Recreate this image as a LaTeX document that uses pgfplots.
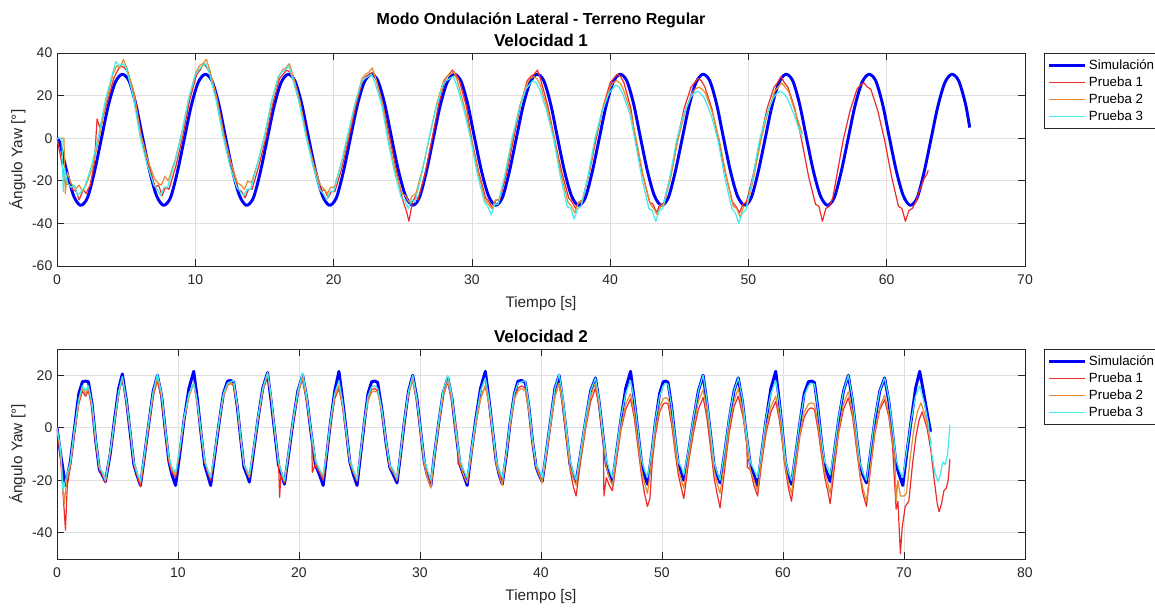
\documentclass[border=0pt]{standalone}
\usepackage{fontspec}
\setmainfont{Liberation Sans}
\usepackage{pgfplots}
\pgfplotsset{compat=1.18}
\definecolor{simblue}{rgb}{0,0,1}
\definecolor{pone}{rgb}{0.93,0.17,0.17}
\definecolor{ptwo}{rgb}{0.90,0.55,0.18}
\definecolor{pthree}{rgb}{0.25,0.92,0.92}
\definecolor{axgray}{rgb}{0.15,0.15,0.15}
\pgfplotsset{
  myax/.style={
    scale only axis, width=726pt,
    axis line style={axgray, line width=0.5pt},
    tick style={axgray, line width=0.5pt},
    major tick length=5pt,
    tick align=inside,
    grid=major, grid style={black!12, line width=0.5pt},
    ticklabel style={font=\fontsize{10.5}{12}\selectfont, text=axgray},
    xticklabel style={yshift=-3pt},
    label style={font=\fontsize{11.5}{13}\selectfont, text=axgray},
    xlabel style={yshift=-2pt},
    ylabel style={yshift=-2pt},
    title style={font=\bfseries\fontsize{12.8}{14}\selectfont, yshift=-4.5pt},
    /pgf/number format/assume math mode=true,
    legend cell align=left,
    legend style={at={(1,1)}, anchor=north west, xshift=14pt, draw=axgray, line width=0.5pt,
      font=\fontsize{10}{12}\selectfont, inner sep=2.5pt, row sep=0pt},
    legend image code/.code={\draw[##1] (0pt,0pt) -- (27pt,0pt);},
    every axis plot/.append style={line join=round},
    xlabel={Tiempo [s]}, ylabel={Ángulo Yaw [°]},
  },
  sim/.style={simblue, line width=2.2pt},
  pa/.style={pone, line width=0.9pt},
  pb/.style={ptwo, line width=0.9pt},
  pc/.style={pthree, line width=0.9pt},
}
\begin{document}
\begin{tikzpicture}
\useasboundingbox (0,0) rectangle (866.25pt,457.5pt);
\node[font=\bfseries\fontsize{12}{14}\selectfont] at (405.75pt,442.5pt) {Modo Ondulación Lateral - Terreno Regular};
\begin{axis}[myax, at={(42.75pt,258pt)}, anchor=south west, height=159.75pt,
  xmin=0, xmax=70, ymin=-60, ymax=40, xtick={0,10,...,70}, ytick={-60,-40,...,40},
  title={Velocidad 1}]
\addplot[sim, smooth] coordinates {
(0,0)(0.2,-2)(0.7,-15.5)(1.2,-27)(1.7,-31.5)(2.2,-28)(2.7,-16)(3.2,-0.5)(3.7,15)(4.2,26)(4.7,30)(5.2,27)(5.7,16)
(6.2,0)(6.7,-15.5)(7.2,-27)(7.7,-31.5)(8.2,-28)(8.7,-16)(9.2,-0.5)(9.7,15)(10.2,26)(10.7,30)(11.2,27)(11.7,16)
(12.2,0)(12.7,-15.5)(13.2,-27)(13.7,-31.5)(14.2,-28)(14.7,-16)(15.2,-0.5)(15.7,15)(16.2,26)(16.7,30)(17.2,27)(17.7,16)
(18.2,0)(18.7,-15.5)(19.2,-27)(19.7,-31.5)(20.2,-28)(20.7,-16)(21.2,-0.5)(21.7,15)(22.2,26)(22.7,30)(23.2,27)(23.7,16)
(24.2,0)(24.7,-15.5)(25.2,-27)(25.7,-31.5)(26.2,-28)(26.7,-16)(27.2,-0.5)(27.7,15)(28.2,26)(28.7,30)(29.2,27)(29.7,16)
(30.2,0)(30.7,-15.5)(31.2,-27)(31.7,-31.5)(32.2,-28)(32.7,-16)(33.2,-0.5)(33.7,15)(34.2,26)(34.7,30)(35.2,27)(35.7,16)
(36.2,0)(36.7,-15.5)(37.2,-27)(37.7,-31.5)(38.2,-28)(38.7,-16)(39.2,-0.5)(39.7,15)(40.2,26)(40.7,30)(41.2,27)(41.7,16)
(42.2,0)(42.7,-15.5)(43.2,-27)(43.7,-31.5)(44.2,-28)(44.7,-16)(45.2,-0.5)(45.7,15)(46.2,26)(46.7,30)(47.2,27)(47.7,16)
(48.2,0)(48.7,-15.5)(49.2,-27)(49.7,-31.5)(50.2,-28)(50.7,-16)(51.2,-0.5)(51.7,15)(52.2,26)(52.7,30)(53.2,27)(53.7,16)
(54.2,0)(54.7,-15.5)(55.2,-27)(55.7,-31.5)(56.2,-28)(56.7,-16)(57.2,-0.5)(57.7,15)(58.2,26)(58.7,30)(59.2,27)(59.7,16)
(60.2,0)(60.7,-15.5)(61.2,-27)(61.7,-31.5)(62.2,-28)(62.7,-16)(63.2,-0.5)(63.7,15)(64.2,26)(64.7,30)(65.2,27)(65.7,16)(66.0,5)
};
\addplot[pa] coordinates {
(0,0)(0.3,-10)(0.6,-21)(0.9,-22)(1.1,-24)(1.4,-25)(1.6,-29)(1.9,-24)(2.1,-26)(2.4,-22)(2.7,-12)(2.9,9)(3.1,5)(3.6,16)(4.1,28)(4.4,32)(4.6,34)(4.9,33)(5.1,31)(5.6,20)
(6.1,1)(6.6,-12)(7.1,-23)(7.35,-22)(7.6,-27)(7.85,-23)(8.1,-24)(8.6,-13)(9.1,1)(9.6,18)(10.1,30)(10.35,32)(10.6,35)(10.85,33)(11.1,30)(11.6,18)
(12.1,1)(12.6,-13)(13.1,-24)(13.35,-25)(13.6,-28)(13.85,-24)(14.1,-24)(14.6,-13)(15.1,0)(15.6,16)(16.1,28)(16.35,30)(16.6,32)(16.85,31)(17.1,27)(17.6,16)
(18.1,0)(18.6,-14)(19.1,-25)(19.35,-24)(19.6,-28)(19.85,-25)(20.1,-25)(20.6,-14)(21.1,0)(21.6,15)(22.1,27)(22.35,29)(22.6,30)(22.85,31)(23.1,27)(23.6,15)
(24.1,-1)(24.6,-17)(25.0,-29)(25.3,-35)(25.45,-39)(25.7,-30)(25.95,-27)(26.1,-29)(26.6,-17)(27.1,-1)(27.6,16)(28.1,28)(28.35,30)(28.6,32)(28.85,30)(29.1,27)(29.6,15)
(30.0,-1)(30.5,-16)(31.0,-28)(31.25,-30)(31.5,-33)(31.75,-29)(32.0,-29)(32.5,-17)(33.0,-1)(33.5,15)(34.0,27)(34.25,29)(34.5,30)(34.75,32)(35.0,27)(35.5,15)
(36.0,-1)(36.5,-16)(37.0,-28)(37.25,-30)(37.5,-33)(37.75,-30)(38.0,-29)(38.5,-16)(39.0,0)(39.5,15)(40.0,26)(40.25,28)(40.5,30)(40.75,29)(41.0,26)(41.5,14)
(41.85,-1)(42.35,-17)(42.85,-30)(43.1,-31)(43.35,-35)(43.6,-31)(43.85,-31)(44.35,-18)(44.85,-1)(45.35,14)(45.85,24)(46.1,26)(46.35,28)(46.6,27)(46.85,24)(47.35,14)
(47.85,-1)(48.35,-17)(48.85,-30)(49.1,-32)(49.35,-35)(49.6,-31)(49.85,-30)(50.35,-17)(50.85,-1)(51.35,14)(51.85,24)(52.1,26)(52.35,29)(52.6,26)(52.85,24)(53.35,14)
(53.85,-1)(54.35,-18)(54.85,-31)(55.1,-32)(55.35,-39)(55.6,-33)(55.85,-32)(56.1,-28)(56.35,-19)(56.85,-1)(57.35,13)(57.85,23)(58.1,25)(58.35,26)(58.6,24)(58.85,23)(59.35,13)
(59.85,-1)(60.35,-18)(60.85,-32)(61.1,-33)(61.35,-39)(61.6,-34)(61.85,-33)(62.1,-30)(62.4,-24)(62.7,-19)(62.9,-17)(63.0,-15)
};
\addplot[pb] coordinates {
(0,0)(0.5,0)(0.6,-26)(0.75,-16)(1.0,-21)(1.35,-24)(1.6,-22)(1.85,-25)(2.1,-22)(2.55,-14)(3.05,0)(3.55,17)(4.05,30)(4.3,34)(4.55,33)(4.8,37)(5.05,33)(5.55,22)
(6.05,2)(6.55,-10)(7.05,-19)(7.3,-21)(7.55,-22)(7.8,-18)(8.05,-20)(8.55,-10)(9.05,3)(9.55,19)(10.05,31)(10.3,34)(10.55,35)(10.8,37)(11.05,32)(11.55,19)
(12.05,2)(12.55,-11)(13.05,-21)(13.3,-22)(13.55,-24)(13.8,-20)(14.05,-21)(14.55,-11)(15.05,2)(15.55,18)(16.05,29)(16.3,32)(16.55,33)(16.8,35)(17.05,30)(17.55,18)
(18.05,1)(18.55,-12)(19.05,-22)(19.3,-24)(19.55,-26)(19.8,-23)(20.05,-23)(20.55,-12)(21.05,1)(21.55,16)(22.05,28)(22.3,30)(22.55,31)(22.8,33)(23.05,28)(23.55,16)
(23.95,0)(24.45,-15)(24.95,-26)(25.2,-27)(25.45,-30)(25.7,-27)(25.95,-26)(26.45,-14)(26.95,1)(27.45,16)(27.95,27)(28.2,29)(28.45,30)(28.7,31)(28.95,27)(29.45,15)
(29.95,0)(30.45,-16)(30.95,-29)(31.2,-31)(31.45,-33)(31.7,-29)(31.95,-29)(32.45,-16)(32.95,0)(33.45,15)(33.95,25)(34.2,28)(34.45,29)(34.7,28)(34.95,25)(35.45,14)
(35.95,0)(36.45,-17)(36.95,-30)(37.2,-32)(37.45,-35)(37.7,-30)(37.95,-30)(38.45,-17)(38.95,0)(39.45,14)(39.95,23)(40.2,26)(40.45,27)(40.7,26)(40.95,23)(41.45,13)
(41.9,-1)(42.4,-18)(42.9,-31)(43.15,-33)(43.4,-36)(43.65,-32)(43.9,-31)(44.4,-18)(44.9,-1)(45.4,12)(45.9,21)(46.15,23)(46.4,24)(46.65,23)(46.9,21)(47.4,12)
(47.9,-1)(48.4,-18)(48.9,-32)(49.15,-33)(49.4,-37)(49.65,-32)(49.9,-32)(50.4,-18)(50.9,-1)(51.4,12)(51.9,22)(52.15,24)(52.4,26)(52.65,24)(52.9,22)(53.4,12)(53.9,2)
};
\addplot[pc] coordinates {
(0,0)(0.35,0)(0.45,-25)(0.55,-14)(0.75,-21)(1.0,-23)(1.25,-22)(1.5,-27)(1.75,-25)(2.0,-23)(2.5,-13)(3.0,1)(3.5,18)(4.0,30)(4.25,36)(4.5,34)(4.75,35)(5.0,33)(5.5,20)
(6.0,1)(6.5,-12)(7.0,-22)(7.25,-24)(7.5,-27)(7.75,-23)(8.0,-23)(8.5,-12)(9.0,2)(9.5,18)(10.0,30)(10.25,32)(10.5,34)(10.75,35)(11.0,31)(11.5,18)
(12.0,1)(12.5,-13)(13.0,-23)(13.25,-25)(13.5,-27)(13.75,-24)(14.0,-24)(14.5,-12)(15.0,1)(15.5,17)(16.0,29)(16.25,31)(16.5,32)(16.75,34)(17.0,29)(17.5,17)
(18.0,1)(18.5,-13)(19.0,-24)(19.25,-26)(19.5,-29)(19.75,-25)(20.0,-25)(20.5,-13)(21.0,1)(21.5,15)(22.0,26)(22.25,28)(22.5,29)(22.75,30)(23.0,26)(23.5,15)
(23.9,0)(24.4,-16)(24.9,-28)(25.15,-29)(25.4,-33)(25.65,-29)(25.9,-30)(26.4,-16)(26.9,0)(27.4,14)(27.9,25)(28.15,27)(28.4,28)(28.65,29)(28.9,25)(29.4,14)
(29.9,0)(30.4,-17)(30.9,-30)(31.15,-32)(31.4,-36)(31.65,-31)(31.9,-31)(32.4,-17)(32.9,0)(33.4,13)(33.9,23)(34.15,25)(34.4,27)(34.65,26)(34.9,23)(35.4,13)
(35.9,0)(36.4,-18)(36.9,-32)(37.15,-33)(37.4,-38)(37.65,-33)(37.9,-32)(38.4,-18)(38.9,0)(39.4,12)(39.9,21)(40.15,23)(40.4,25)(40.65,24)(40.9,21)(41.4,12)
(41.8,-1)(42.3,-19)(42.8,-33)(43.05,-34)(43.3,-39)(43.55,-34)(43.8,-33)(44.3,-19)(44.8,-1)(45.3,11)(45.8,19)(46.05,21)(46.3,22)(46.55,21)(46.8,19)(47.3,11)
(47.8,-1)(48.3,-19)(48.8,-33)(49.05,-35)(49.3,-40)(49.55,-35)(49.8,-34)(50.3,-19)(50.8,-1)(51.3,11)(51.8,19)(52.05,21)(52.3,22)(52.55,21)(52.8,19)(53.3,11)(53.9,0)
};
\legend{Simulación,Prueba 1,Prueba 2,Prueba 3}
\end{axis}
\begin{axis}[myax, at={(42.75pt,38.25pt)}, anchor=south west, height=157.5pt,
  xmin=0, xmax=80, ymin=-50, ymax=30, xtick={0,10,...,80}, ytick={-40,-20,0,20},
  title={Velocidad 2}]
\addplot[sim] coordinates {
(0,0)(0.3,-10)(0.7,-22)
(1.1,-13)(1.45,0)(1.8,13)(2.1,17.5)(2.35,17.8)(2.6,17.5)
(2.9,9)(3.2,-5)(3.5,-16)(3.75,-18)(4.0,-20.5)
(4.4,-10)(4.75,3)(5.1,15)(5.4,20.5)
(5.75,10)(6.05,-2)(6.35,-14)(6.6,-18)(6.9,-22)
(7.25,-10)(7.6,2)(7.95,14)(8.3,20)
(8.65,12)(8.95,-1)(9.25,-13)(9.5,-18)(9.8,-22)
(10.15,-10)(10.5,3)(10.9,15)(11.3,21.5)
(11.6,11)(11.9,-2)(12.2,-14)(12.45,-18)(12.7,-22)
(13.05,-10)(13.4,2)(13.75,13)(14.1,17.8)(14.35,18)(14.6,17.5)
(14.9,8)(15.2,-5)(15.45,-15)(15.7,-18)(15.9,-20.7)
(16.25,-9)(16.6,3)(17.0,15)(17.4,21)
(17.7,10)(18.0,-2)(18.3,-14)(18.55,-18)(18.8,-21.5)
(19.15,-10)(19.5,2)(19.9,14)(20.3,20)
(20.65,11)(21.0,-2)(21.35,-14)(21.7,-18)(22.0,-22)
(22.3,-10)(22.6,2)(22.95,14)(23.3,21.5)
(23.6,11)(23.9,-1)(24.2,-13)(24.5,-18)(24.8,-22)
(25.1,-10)(25.4,2)(25.7,13)(26.0,17.5)(26.25,17.8)(26.5,17.3)
(26.85,7)(27.2,-6)(27.5,-15)(27.8,-18)(28.1,-21)
(28.4,-10)(28.7,2)(29.05,14)(29.4,20)
(29.75,11)(30.05,-1)(30.35,-13)(30.6,-18)(30.9,-22)
(31.2,-10)(31.55,2)(31.9,13)(32.3,19)
(32.65,11)(32.95,-1)(33.3,-14)(33.6,-18)(33.9,-22)
(34.25,-9)(34.6,3)(35.0,15)(35.4,21.5)
(35.7,11)(36.0,-1)(36.3,-13)(36.55,-18)(36.8,-21.5)
(37.15,-10)(37.45,2)(37.8,13)(38.1,17.8)(38.4,18)(38.7,17.3)
(39.0,8)(39.3,-5)(39.6,-15)(39.85,-18)(40.1,-20.5)
(40.45,-9)(40.8,3)(41.15,15)(41.5,20)
(41.8,10)(42.1,-2)(42.4,-14)(42.65,-18)(42.9,-20.7)
(43.3,-9)(43.7,3)(44.1,14)(44.5,19)
(44.8,10)(45.1,-2)(45.4,-14)(45.65,-18)(45.9,-21)
(46.25,-9)(46.6,3)(47.0,15)(47.4,21.5)
(47.7,11)(48.0,-1)(48.3,-13)(48.55,-18)(48.8,-21.5)
(49.15,-10)(49.45,2)(49.8,13)(50.1,17.5)(50.3,17.8)(50.5,17.3)
(50.8,8)(51.1,-5)(51.35,-14)(51.6,-17)(51.8,-20)
(52.2,-9)(52.6,3)(53.0,14)(53.4,20)
(53.7,10)(54.0,-2)(54.3,-14)(54.55,-18)(54.8,-21)
(55.2,-9)(55.55,3)(55.95,14)(56.3,19)
(56.65,10)(56.95,-2)(57.3,-14)(57.6,-18)(57.9,-22)
(58.25,-9)(58.6,3)(59.0,15)(59.4,21.5)
(59.7,10)(59.95,-1)(60.2,-13)(60.45,-18)(60.7,-21.5)
(61.05,-10)(61.4,2)(61.75,13)(62.1,17.5)(62.35,17.8)(62.6,17.3)
(62.9,7)(63.2,-6)(63.45,-15)(63.7,-18)(63.9,-20.5)
(64.25,-9)(64.6,3)(65.0,14)(65.4,20)
(65.75,10)(66.05,-2)(66.35,-14)(66.6,-18)(66.9,-21)
(67.25,-9)(67.6,3)(68.0,14)(68.4,19)
(68.75,10)(69.05,-2)(69.35,-14)(69.6,-18)(69.9,-22)
(70.25,-9)(70.6,3)(70.95,15)(71.3,21.5)
(71.6,14)(71.9,6)(72.2,-1.5)
};
\addplot[pa] coordinates {
(0,0)(0.3,-12)(0.5,-25)(0.7,-39)(0.85,-22)
(1.1,-15)(1.45,-2)(1.8,9)(2.1,14)(2.35,12)(2.6,14)
(2.9,7)(3.2,-6)(3.5,-16)(3.75,-18)(4.0,-21)
(4.4,-10)(4.75,2)(5.1,13)(5.4,19)
(5.75,9)(6.05,-2)(6.35,-14)(6.6,-18)(6.9,-22.5)
(7.25,-11)(7.6,1)(7.95,12)(8.3,18)
(8.65,11)(8.95,-2)(9.25,-13)(9.5,-17)(9.8,-19)
(10.15,-9)(10.5,3)(10.9,12)(11.3,17)
(11.6,9)(11.9,-2)(12.2,-13)(12.45,-17)(12.7,-20)
(13.05,-10)(13.4,2)(13.75,12)(14.1,16)(14.35,17)(14.6,16)
(14.9,8)(15.2,-5)(15.45,-14)(15.7,-17)(15.9,-19)
(16.25,-9)(16.6,3)(17.0,14)(17.4,20)
(17.7,11)(18.0,-2)(18.3,-12)(18.4,-26.5)(18.5,-18)(18.8,-21)
(19.15,-10)(19.5,2)(19.9,13)(20.3,19)
(20.65,10)(21.05,-3)(21.1,-17)(21.35,-14)(21.7,-17)(22.0,-20)
(22.3,-10)(22.6,1)(22.95,11)(23.3,15)
(23.6,8)(23.9,-2)(24.2,-13)(24.5,-17)(24.8,-20.5)
(25.1,-9)(25.4,2)(25.7,11)(26.0,14.5)(26.25,15)(26.5,14)
(26.85,6)(27.2,-6)(27.5,-15)(27.8,-17)(28.1,-20)
(28.4,-10)(28.7,2)(29.05,13)(29.4,19)
(29.75,10)(30.05,-2)(30.35,-13)(30.6,-18)(30.9,-21)
(31.2,-10)(31.55,2)(31.9,12)(32.3,18)
(32.65,10)(33.1,-3)(33.15,-14)(33.3,-13)(33.6,-18)(33.9,-21)
(34.25,-10)(34.6,1)(35.0,11)(35.4,16)
(35.7,9)(36.0,-2)(36.3,-13)(36.55,-17)(36.8,-21)
(37.15,-10)(37.45,1)(37.8,11)(38.1,15)(38.4,16)(38.7,15)
(39.0,7)(39.3,-5)(39.6,-15)(39.85,-17)(40.1,-20)
(40.45,-10)(40.8,1)(41.15,12)(41.5,17)
(41.8,8)(42.1,-4)(42.4,-16)(42.65,-22)(42.9,-26)
(43.3,-12)(43.7,0)(44.1,10)(44.5,15)
(44.8,8)(45.15,-5)(45.2,-26)(45.4,-19)(45.65,-22)(45.9,-24)
(46.25,-12)(46.6,-1)(47.0,7)(47.4,11)
(47.7,4)(48.0,-7)(48.3,-18)(48.55,-25)(48.8,-30)(49.0,-27)
(49.2,-13)(49.45,-3)(49.8,6)(50.1,9)(50.3,9.5)(50.5,9)
(50.8,1)(51.1,-10)(51.35,-18)(51.6,-23)(51.8,-27)
(52.2,-13)(52.6,-2)(53.0,7)(53.4,11.5)
(53.7,4)(54.0,-7)(54.3,-19)(54.55,-25)(54.8,-30.5)
(55.2,-15)(55.55,-2)(55.95,8)(56.3,12)
(56.65,5)(57.0,-3)(57.05,-15)(57.3,-16)(57.6,-22)(57.9,-26)
(58.25,-13)(58.6,-2)(59.0,6)(59.4,10)
(59.7,3)(59.95,-6)(60.2,-16)(60.45,-23)(60.7,-28)
(61.05,-15)(61.4,-3)(61.75,4)(62.1,7)(62.35,7.6)(62.6,7)
(62.9,-1)(63.2,-11)(63.45,-19)(63.7,-24)(63.9,-29)
(64.25,-15)(64.6,-2)(65.0,7)(65.4,11.4)
(65.75,4)(66.05,-7)(66.35,-18)(66.6,-25)(66.9,-30)
(67.25,-15)(67.6,-2)(68.0,7)(68.4,10.7)
(68.75,4)(69.05,-7)(69.2,-19)(69.35,-31)(69.5,-28)(69.7,-48)(69.85,-38)(70.1,-30)(70.4,-28)
(70.7,-14)(71.0,-3)(71.25,3)(71.5,6)
(71.9,0)(72.2,-8)(72.5,-20)(72.75,-29)(72.9,-32)(73.1,-29)(73.3,-24)(73.5,-23)(73.65,-20)(73.8,-12)
};
\addplot[pb] coordinates {
(0,0)(0.3,-10)(0.6,-29)(0.8,-20)
(1.1,-14)(1.45,-1)(1.8,10)(2.1,15)(2.35,13)(2.6,15)
(2.9,8)(3.2,-5)(3.5,-15)(3.75,-17)(4.0,-20)
(4.4,-9)(4.75,2)(5.1,13)(5.4,19)
(5.75,10)(6.05,-1)(6.35,-13)(6.6,-17)(6.9,-21)
(7.25,-10)(7.6,2)(7.95,13)(8.3,19)
(8.65,12)(8.95,-1)(9.25,-12)(9.5,-16)(9.8,-18)
(10.15,-8)(10.5,3)(10.9,12)(11.3,17)
(11.6,9)(11.9,-2)(12.2,-13)(12.45,-16)(12.7,-19)
(13.05,-9)(13.4,2)(13.75,12)(14.1,16)(14.35,17)(14.6,16.5)
(14.9,8)(15.2,-5)(15.45,-14)(15.7,-17)(15.9,-19)
(16.25,-8)(16.6,3)(17.0,14)(17.4,21)
(17.7,11)(18.0,-2)(18.3,-13)(18.55,-17)(18.8,-20.5)
(19.15,-9)(19.5,2)(19.9,13)(20.3,19)
(20.65,10)(21.0,-2)(21.35,-13)(21.7,-16)(22.0,-19)
(22.3,-9)(22.6,2)(22.95,12)(23.3,16)
(23.6,9)(23.9,-2)(24.2,-13)(24.5,-17)(24.8,-20)
(25.1,-9)(25.4,2)(25.7,10)(26.0,13.5)(26.25,14)(26.5,13.5)
(26.85,6)(27.2,-6)(27.5,-15)(27.8,-17)(28.1,-20)
(28.4,-10)(28.7,2)(29.05,13)(29.4,18)
(29.75,10)(30.05,-2)(30.35,-14)(30.6,-19)(30.9,-23)
(31.2,-11)(31.55,1)(31.9,12)(32.3,18)
(32.65,10)(32.95,-2)(33.3,-14)(33.6,-18)(33.9,-21)
(34.25,-10)(34.6,1)(35.0,11)(35.4,16)
(35.7,9)(36.0,-2)(36.3,-14)(36.55,-18)(36.8,-22)
(37.15,-10)(37.45,1)(37.8,11)(38.1,14)(38.4,15)(38.7,14)
(39.0,6)(39.3,-6)(39.6,-15)(39.85,-18)(40.1,-21)
(40.45,-10)(40.8,1)(41.15,12)(41.5,17)
(41.8,9)(42.1,-3)(42.4,-15)(42.65,-19)(42.9,-22)
(43.3,-10)(43.7,1)(44.1,12)(44.5,17)
(44.8,9)(45.1,-3)(45.4,-15)(45.65,-19)(45.9,-22)
(46.25,-10)(46.6,0)(47.0,9)(47.4,13)
(47.7,6)(48.0,-5)(48.3,-16)(48.55,-21)(48.8,-25)
(49.15,-12)(49.45,-1)(49.8,8)(50.1,11)(50.3,11.5)(50.5,11)
(50.8,3)(51.1,-8)(51.35,-16)(51.6,-20)(51.8,-23)
(52.2,-11)(52.6,0)(53.0,10)(53.4,14.5)
(53.7,7)(54.0,-4)(54.3,-16)(54.55,-21)(54.8,-25)
(55.2,-12)(55.55,0)(55.95,10)(56.3,15)
(56.65,7)(56.95,-4)(57.3,-16)(57.6,-20)(57.9,-24)
(58.25,-11)(58.6,0)(59.0,8)(59.4,12)
(59.7,5)(59.95,-5)(60.2,-15)(60.45,-21)(60.7,-25)
(61.05,-13)(61.4,-2)(61.75,6)(62.1,9)(62.35,9.5)(62.6,9)
(62.9,1)(63.2,-9)(63.45,-17)(63.7,-21)(63.9,-25)
(64.25,-12)(64.6,-1)(65.0,9)(65.4,13.7)
(65.75,6)(66.05,-5)(66.35,-17)(66.6,-23)(66.9,-28)
(67.25,-14)(67.6,-1)(68.0,8)(68.4,12.5)
(68.75,5)(69.05,-5)(69.25,-12)(69.35,-28)(69.5,-20)(69.7,-26)(70.0,-26)(70.2,-25)
(70.5,-12)(70.8,-1)(71.1,6)(71.4,9.5)
(71.8,4)(72.25,-6)
};
\addplot[pc] coordinates {
(0,0)(0.3,-8)(0.5,-24)(0.7,-20)
(1.1,-13)(1.45,0)(1.8,11)(2.1,16)(2.35,14)(2.6,16)
(2.9,9)(3.2,-4)(3.5,-15)(3.75,-17)(4.0,-20)
(4.4,-9)(4.75,3)(5.1,14)(5.4,19.5)
(5.75,10)(6.05,-1)(6.35,-13)(6.6,-17)(6.9,-20)
(7.25,-9)(7.6,3)(7.95,14)(8.3,20.5)
(8.65,13)(8.95,0)(9.25,-11)(9.5,-15)(9.8,-17)
(10.15,-8)(10.5,4)(10.9,13)(11.3,17)
(11.6,10)(11.9,-1)(12.2,-12)(12.45,-16)(12.7,-19)
(13.05,-9)(13.4,3)(13.75,13)(14.1,17)(14.35,17.5)(14.6,18)
(14.9,9)(15.2,-4)(15.45,-14)(15.7,-16)(15.9,-18)
(16.25,-8)(16.6,4)(17.0,15)(17.4,21)
(17.7,12)(18.0,-1)(18.3,-13)(18.55,-17)(18.8,-20)
(19.15,-9)(19.5,3)(19.9,14)(20.3,21)
(20.65,12)(21.0,-1)(21.35,-12)(21.7,-16)(22.0,-18)
(22.3,-9)(22.6,3)(22.95,13)(23.3,18)
(23.6,10)(23.9,-1)(24.2,-12)(24.5,-16)(24.8,-19.5)
(25.1,-9)(25.4,3)(25.7,12)(26.0,15.5)(26.25,16)(26.5,15)
(26.85,7)(27.2,-5)(27.5,-14)(27.8,-16)(28.1,-19)
(28.4,-9)(28.7,3)(29.05,14)(29.4,20)
(29.75,11)(30.05,0)(30.35,-12)(30.6,-16)(30.9,-20)
(31.2,-9)(31.55,3)(31.9,14)(32.3,20)
(32.65,12)(32.95,0)(33.3,-12)(33.6,-16)(33.9,-19)
(34.25,-8)(34.6,3)(35.0,14)(35.4,19)
(35.7,11)(36.0,0)(36.3,-12)(36.55,-16)(36.8,-19)
(37.15,-9)(37.45,3)(37.8,13)(38.1,17)(38.4,17.5)(38.7,18)
(39.0,9)(39.3,-4)(39.6,-14)(39.85,-16)(40.1,-19)
(40.45,-8)(40.8,4)(41.15,15)(41.5,20.5)
(41.8,12)(42.1,0)(42.4,-12)(42.65,-17)(42.9,-20)
(43.3,-8)(43.7,4)(44.1,14)(44.5,19)
(44.8,11)(45.1,-1)(45.4,-12)(45.65,-16)(45.9,-19)
(46.25,-8)(46.6,4)(47.0,13)(47.4,18)
(47.7,11)(48.0,0)(48.3,-12)(48.55,-16)(48.8,-19)
(49.15,-9)(49.45,3)(49.8,12)(50.1,16)(50.3,17)(50.5,16.5)
(50.8,8)(51.1,-4)(51.35,-13)(51.6,-15)(51.8,-18)
(52.2,-8)(52.6,4)(53.0,14)(53.4,20)
(53.7,11)(54.0,-1)(54.3,-13)(54.55,-17)(54.8,-20)
(55.2,-8)(55.55,4)(55.95,14)(56.3,19)
(56.65,11)(56.95,-1)(57.3,-13)(57.6,-16)(57.9,-19)
(58.25,-8)(58.6,4)(59.0,13)(59.4,18)
(59.7,10)(59.95,0)(60.2,-12)(60.45,-17)(60.7,-20)
(61.05,-9)(61.4,3)(61.75,12)(62.1,16)(62.35,17)(62.6,16.5)
(62.9,7)(63.2,-5)(63.45,-13)(63.7,-15)(63.9,-18)
(64.25,-8)(64.6,4)(65.0,14)(65.4,20)
(65.75,11)(66.05,-1)(66.35,-13)(66.6,-17)(66.9,-20)
(67.25,-8)(67.6,4)(68.0,14)(68.4,19)
(68.75,11)(69.05,0)(69.35,-12)(69.6,-16)(69.9,-19)
(70.25,-8)(70.6,3)(70.95,12)(71.3,16)
(71.7,9)(72.0,2)(72.3,-10)(72.55,-17)(72.8,-20.5)(73.0,-18)(73.2,-13)(73.4,-14)(73.6,-10)(73.8,1)
};
\legend{Simulación,Prueba 1,Prueba 2,Prueba 3}
\end{axis}
\end{tikzpicture}
\end{document}
